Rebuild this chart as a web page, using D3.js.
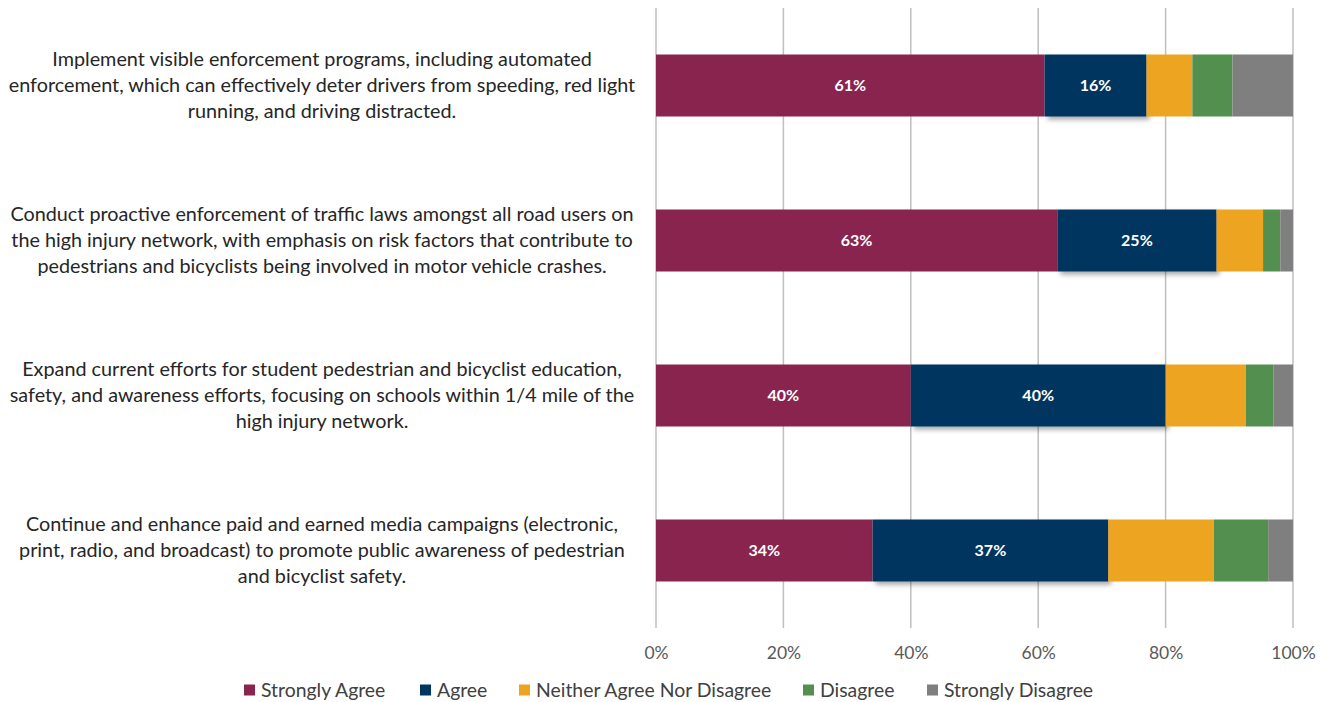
<!DOCTYPE html>
<html>
<head>
<meta charset="utf-8">
<script src="https://cdn.jsdelivr.net/npm/d3@7/dist/d3.min.js"></script>
<style>
  html, body { margin: 0; padding: 0; background: #fff; }
  svg { display: block; font-family: Lato, "Open Sans", sans-serif; }
</style>
</head>
<body>
<svg id="chart" width="1328" height="702"></svg>
<script>
// Survey statements (one line per array entry)
const statements = [
  ["Implement visible enforcement programs, including automated",
   "enforcement, which can effectively deter drivers from speeding, red light",
   "running, and driving distracted."],
  ["Conduct proactive enforcement of traffic laws amongst all road users on",
   "the high injury network, with emphasis on risk factors that contribute to",
   "pedestrians and bicyclists being involved in motor vehicle crashes."],
  ["Expand current efforts for student pedestrian and bicyclist education,",
   "safety, and awareness efforts, focusing on schools within 1/4 mile of the",
   "high injury network."],
  ["Continue and enhance paid and earned media campaigns (electronic,",
   "print, radio, and broadcast) to promote public awareness of pedestrian",
   "and bicyclist safety."]
];

// Response categories
const responses = ["Strongly Agree", "Agree", "Neither Agree Nor Disagree", "Disagree", "Strongly Disagree"];
const responseColors = ["#89244F", "#00365F", "#EDA420", "#53904F", "#7F7F7F"];

// Share of respondents (%) per statement
const stronglyAgree    = [61, 63, 40, 34];
const agree            = [16, 25, 40, 37];
const neither          = [7.2, 7.3, 12.6, 16.6];
const disagree         = [6.3, 2.7, 4.3, 8.5];
const stronglyDisagree = [9.5, 2.0, 3.1, 3.9];

// Which segments carry a value label
const labelled = [true, true, false, false, false];

const xTicks = [0, 20, 40, 60, 80, 100];

const seriesValues = [stronglyAgree, agree, neither, disagree, stronglyDisagree];
const rows = statements.map((s, i) => {
  const r = { id: i };
  responses.forEach((k, j) => { r[k] = seriesValues[j][i]; });
  return r;
});

const svg = d3.select("#chart");
const plot = { left: 656, right: 1293, top: 8, bottom: 628 };

const x = d3.scaleLinear().domain([0, 100]).range([plot.left, plot.right]);
const y = d3.scaleBand().domain(d3.range(statements.length))
  .range([plot.top, plot.bottom]).paddingInner(0.6).paddingOuter(0.3);

// Drop shadow used on the "Agree" segments
const defs = svg.append("defs");
const f = defs.append("filter").attr("id", "shadow")
  .attr("x", "-10%").attr("y", "-20%").attr("width", "130%").attr("height", "160%");
f.append("feDropShadow").attr("dx", 3).attr("dy", 3).attr("stdDeviation", 2.5)
  .attr("flood-color", "#000").attr("flood-opacity", 0.35);

// Vertical gridlines
svg.append("g").selectAll("line").data(xTicks).join("line")
  .attr("x1", d => x(d)).attr("x2", d => x(d))
  .attr("y1", plot.top).attr("y2", plot.bottom)
  .attr("stroke", "#BFBFBF").attr("stroke-width", 1.5);

// Axis tick labels
const xAxis = d3.axisBottom(x).tickValues(xTicks).tickFormat(d => d + "%").tickSize(0).tickPadding(0);
const ax = svg.append("g").attr("transform", `translate(0, ${plot.bottom + 31})`).call(xAxis);
ax.select(".domain").remove();
ax.selectAll("text").attr("fill", "#595959").attr("font-size", 17.5)
  .attr("font-family", "Lato, sans-serif").attr("dy", 0);

// Stacked bars
const stack = d3.stack().keys(responses);
const layers = stack(rows);

const barG = svg.append("g");
layers.forEach((layer, j) => {
  const g = barG.append("g");
  g.selectAll("rect").data(layer).join("rect")
    .attr("x", d => x(d[0]))
    .attr("y", (d, i) => y(i))
    .attr("width", d => x(d[1]) - x(d[0]))
    .attr("height", y.bandwidth())
    .attr("fill", responseColors[j])
    .attr("filter", responses[j] === "Agree" ? "url(#shadow)" : null);
});

// Value labels
layers.forEach((layer, j) => {
  if (!labelled[j]) return;
  barG.append("g").selectAll("text").data(layer).join("text")
    .attr("x", d => (x(d[0]) + x(d[1])) / 2)
    .attr("y", (d, i) => y(i) + y.bandwidth() / 2)
    .attr("dy", "0.36em")
    .attr("text-anchor", "middle")
    .attr("fill", "#fff").attr("font-weight", "bold").attr("font-size", 16)
    .text(d => Math.round(d[1] - d[0]) + "%");
});

// Category labels
const lineH = 26;
const catG = svg.append("g");
statements.forEach((lines, i) => {
  const cy = y(i) + y.bandwidth() / 2;
  const t = catG.append("text").attr("text-anchor", "middle")
    .attr("fill", "#262626").attr("font-size", 19.8);
  lines.forEach((ln, k) => {
    t.append("tspan").attr("x", 322)
      .attr("y", cy + (k - (lines.length - 1) / 2) * lineH)
      .attr("dy", "0.34em").text(ln);
  });
});

// Legend
const legendX = [244, 420, 519, 803, 927];
const lg = svg.append("g").attr("transform", "translate(0, 690)");
responses.forEach((r, j) => {
  lg.append("rect").attr("x", legendX[j]).attr("y", -5.5).attr("width", 11).attr("height", 11)
    .attr("fill", responseColors[j]);
  lg.append("text").attr("x", legendX[j] + 17).attr("y", 0).attr("dy", "0.34em")
    .attr("fill", "#404040").attr("font-size", 19.4).text(r);
});
</script>
</body>
</html>
